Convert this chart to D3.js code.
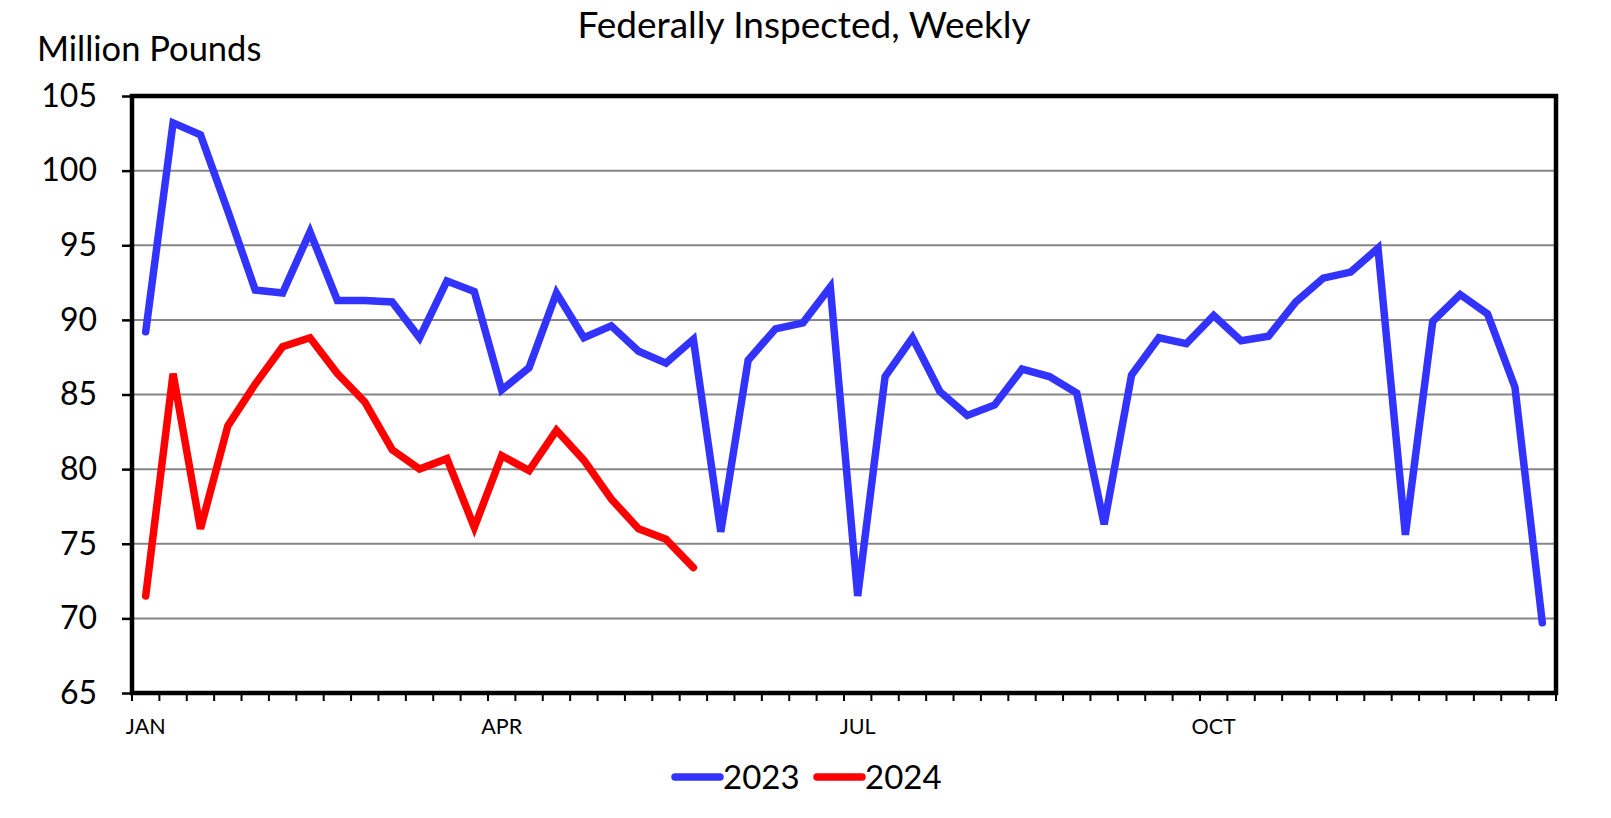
<!DOCTYPE html>
<html>
<head>
<meta charset="utf-8">
<script src="https://cdn.jsdelivr.net/npm/d3@7"></script>
<style>
  html, body { margin: 0; padding: 0; background: #ffffff; }
  svg { display: block; }
  text { font-family: Lato, "Open Sans", "Noto Sans", sans-serif; fill: #000; }
</style>
</head>
<body>
<svg id="chart" width="1611" height="818"></svg>
<script>
// ---- data ----
const title = "Federally Inspected, Weekly";
const yAxisTitle = "Million Pounds";
const weeks = d3.range(1, 53); // 52 weekly categories
const monthLabels = ["JAN", "APR", "JUL", "OCT"];
const monthWeeks = [1, 14, 27, 40];
const yTicks = [65, 70, 75, 80, 85, 90, 95, 100, 105];
const seriesNames = ["2023", "2024"];
const seriesColors = ["#3333ff", "#ff0000"];
const values2023 = [
  89.2, 103.2, 102.4, 97.3, 92.0, 91.8, 95.9, 91.3, 91.3, 91.2,
  88.8, 92.6, 91.9, 85.3, 86.8, 91.8, 88.8, 89.6, 87.9, 87.1,
  88.7, 75.8, 87.3, 89.4, 89.8, 92.2, 71.5, 86.2, 88.8, 85.2,
  83.6, 84.3, 86.7, 86.2, 85.1, 76.3, 86.3, 88.8, 88.4, 90.3,
  88.6, 88.9, 91.2, 92.8, 93.2, 94.8, 75.6, 89.9, 91.7, 90.4,
  85.5, 69.7
];
const values2024 = [
  71.5, 86.4, 76.0, 82.9, 85.7, 88.2, 88.8, 86.4, 84.5, 81.3,
  80.0, 80.7, 76.1, 80.9, 79.9, 82.6, 80.6, 78.0, 76.0, 75.3,
  73.4
];

// ---- layout ----
const svg = d3.select("#chart");
const pLeft = 132, pRight = 1556, pTop = 96, pBottom = 693;

const x = d3.scaleBand().domain(weeks).range([pLeft, pRight]).padding(0);
const y = d3.scaleLinear().domain([65, 105]).range([pBottom, pTop]);

// title
svg.append("text")
  .attr("x", 804).attr("y", 37.5)
  .attr("text-anchor", "middle")
  .style("font-size", "37px")
  .text(title);

svg.append("text")
  .attr("x", 37).attr("y", 61)
  .style("font-size", "34.5px")
  .text(yAxisTitle);

// gridlines
svg.append("g").selectAll("line")
  .data(yTicks.filter(d => d > 65 && d < 105))
  .join("line")
  .attr("x1", pLeft).attr("x2", pRight)
  .attr("y1", d => y(d)).attr("y2", d => y(d))
  .attr("stroke", "#868686").attr("stroke-width", 2);

// y axis
const yAxis = d3.axisLeft(y).tickValues(yTicks).tickSize(10).tickPadding(25).tickFormat(d3.format("d"));
const gy = svg.append("g").attr("transform", `translate(${pLeft},0)`).call(yAxis);
gy.select(".domain").remove();
gy.selectAll(".tick line").attr("stroke", "#000").attr("stroke-width", 2.5);
gy.selectAll(".tick text").style("font-size", "32px").attr("fill", "#000")
  .style("font-family", "Lato, 'Open Sans', sans-serif");

// x axis ticks at band boundaries
const boundaries = d3.range(0, weeks.length + 1);
svg.append("g").selectAll("line")
  .data(boundaries)
  .join("line")
  .attr("x1", i => pLeft + i * x.step()).attr("x2", i => pLeft + i * x.step())
  .attr("y1", pBottom).attr("y2", pBottom + 8)
  .attr("stroke", "#000").attr("stroke-width", 2);

// month labels
svg.append("g").selectAll("text")
  .data(monthLabels)
  .join("text")
  .attr("x", (d, i) => x(monthWeeks[i]) + x.bandwidth() / 2)
  .attr("y", 734)
  .attr("text-anchor", "middle")
  .style("font-size", "21.5px")
  .text(d => d);

// series lines
const line = d3.line()
  .x((d, i) => x(weeks[i]) + x.bandwidth() / 2)
  .y(d => y(d));

[values2023, values2024].forEach((vals, k) => {
  svg.append("path")
    .datum(vals)
    .attr("d", line)
    .attr("fill", "none")
    .attr("stroke", seriesColors[k])
    .attr("stroke-width", 7.5)
    .attr("stroke-linejoin", "miter")
    .attr("stroke-miterlimit", 3)
    .attr("stroke-linecap", "round");
});

// plot frame
svg.append("rect")
  .attr("x", pLeft).attr("y", pTop)
  .attr("width", pRight - pLeft).attr("height", pBottom - pTop)
  .attr("fill", "none").attr("stroke", "#000").attr("stroke-width", 4.5);

// legend
const legendItems = [{ x0: 675, x1: 720, tx: 723 }, { x0: 817, x1: 862, tx: 865 }];
const lg = svg.append("g");
seriesNames.forEach((name, k) => {
  const it = legendItems[k];
  lg.append("line")
    .attr("x1", it.x0).attr("x2", it.x1)
    .attr("y1", 777).attr("y2", 777)
    .attr("stroke", seriesColors[k]).attr("stroke-width", 7.5)
    .attr("stroke-linecap", "round");
  lg.append("text")
    .attr("x", it.tx).attr("y", 789)
    .style("font-size", "33px")
    .text(name);
});
</script>
</body>
</html>
